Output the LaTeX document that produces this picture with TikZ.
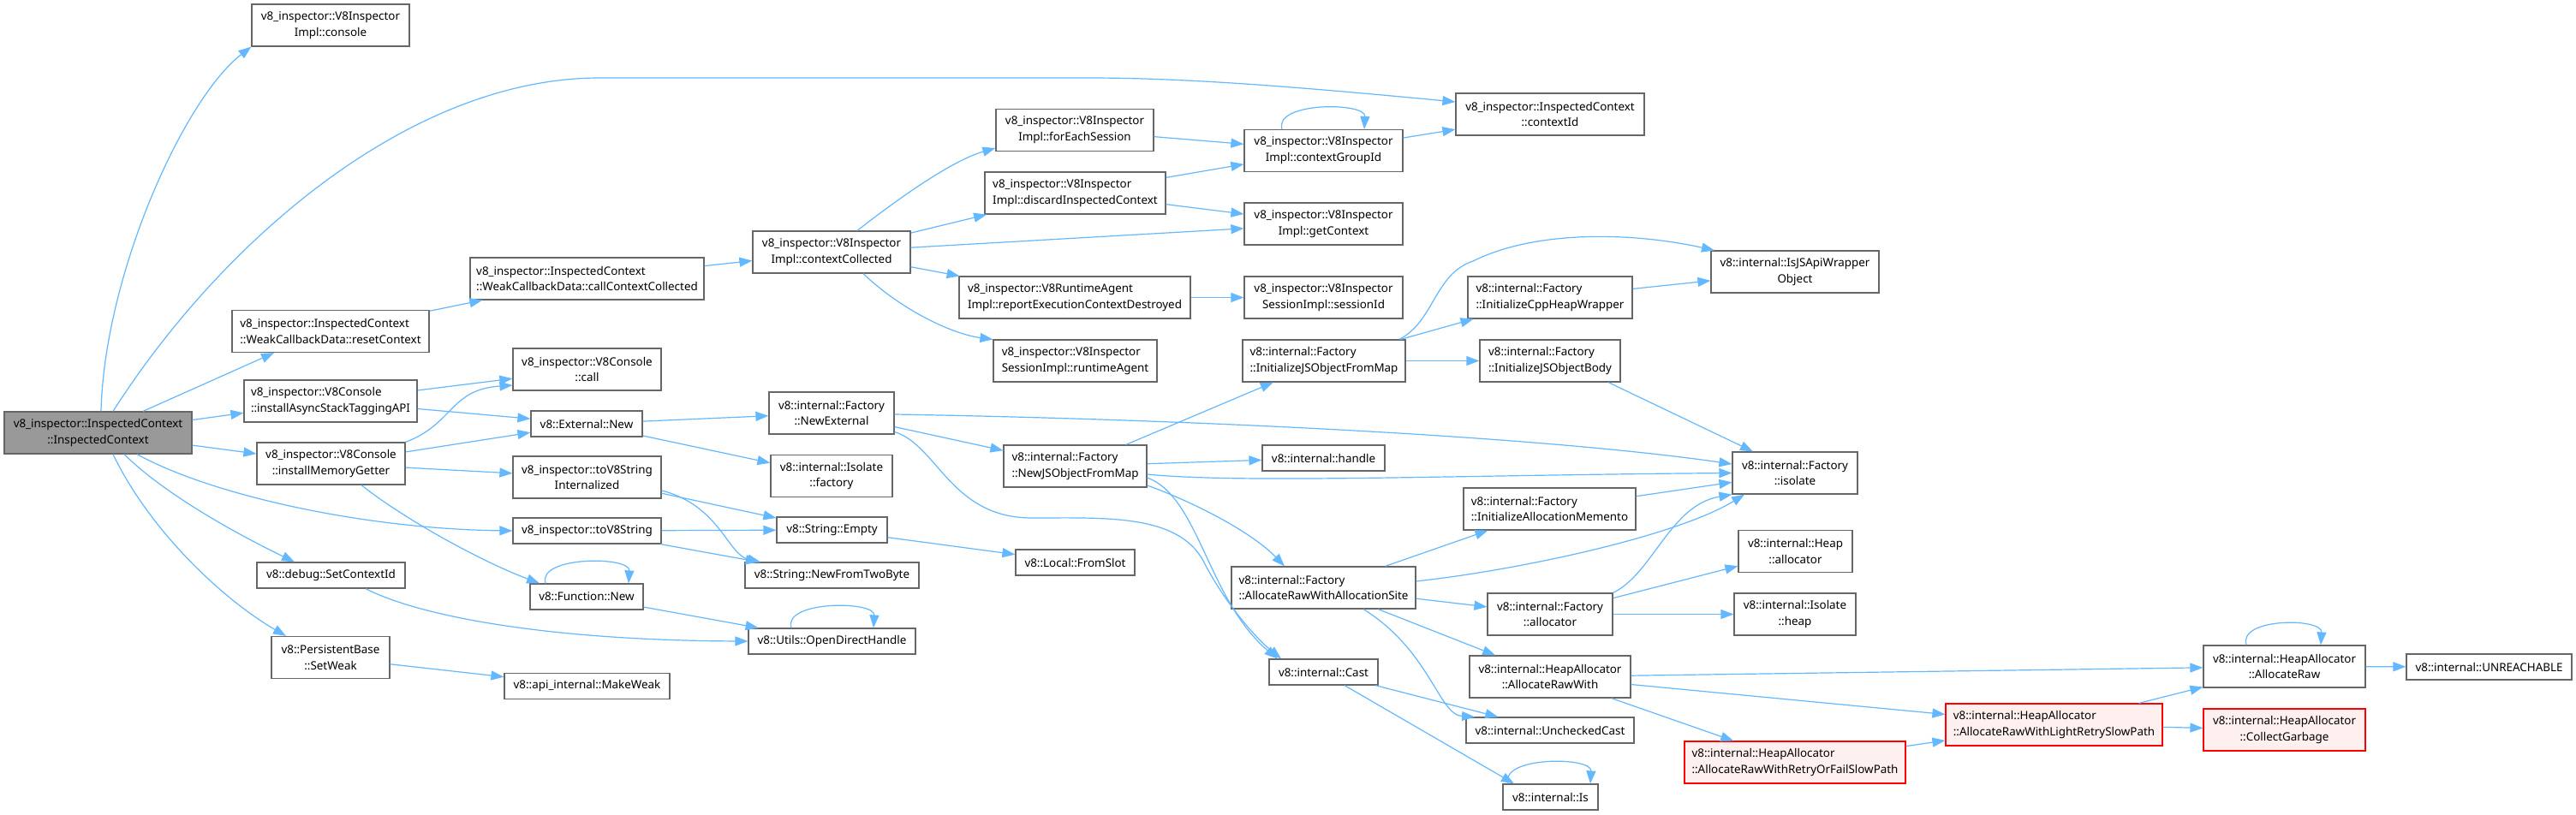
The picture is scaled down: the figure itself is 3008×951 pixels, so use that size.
\documentclass[tikz,border=0pt]{standalone}
\usepackage{fontspec}
\setmainfont{Noto Sans}
\usetikzlibrary{arrows.meta}
\definecolor{edgeblue}{HTML}{63B8FF}
\definecolor{boxgray}{HTML}{666666}
\definecolor{maingray}{HTML}{999999}
\definecolor{redfill}{HTML}{FFF0F0}
\begin{document}
\begin{tikzpicture}[x=1pt, y=-1pt,
  box/.style={draw=boxgray, line width=1.2pt, fill=white, inner xsep=3pt, inner ysep=0pt,
    font=\fontsize{13.4pt}{18.7pt}\selectfont, text=black},
  ha/.style={minimum height=30pt},
  hb/.style={minimum height=49pt},
  lft/.style={align=left},
  ctr/.style={align=center},
  mainbox/.style={box, fill=maingray},
  redbox/.style={box, draw=red, fill=redfill},
  conn/.style={draw=edgeblue, line width=1.2pt, -{Triangle[length=15pt,width=11pt]}},
  selfloop/.style={conn}
]
\fill[white] (0,0) rectangle (3008,951);
\useasboundingbox (0,0) rectangle (3008,951);

% column 0/1
\node[mainbox,hb,ctr,minimum width=219pt] (ic) at (114.5,505.5) {v8\_inspector::InspectedContext\\::InspectedContext};
\node[box,hb,ctr,minimum width=184pt] (console) at (386,29.5) {v8\_inspector::V8Inspector\\Impl::console};
\node[box,hb,lft,minimum width=230pt] (resetctx) at (386,387) {v8\_inspector::InspectedContext\\::WeakCallbackData::resetContext};
\node[box,hb,lft,minimum width=202pt] (async) at (386,468.5) {v8\_inspector::V8Console\\::installAsyncStackTaggingAPI};
\node[box,hb,ctr,minimum width=173pt] (memget) at (386.5,541.5) {v8\_inspector::V8Console\\::installMemoryGetter};
\node[box,ha,minimum width=173pt] (setctx) at (386.5,672) {v8::debug::SetContextId};
\node[box,hb,ctr,minimum width=138pt] (setweak) at (386,768) {v8::PersistentBase\\::SetWeak};

% column 2
\node[box,hb,lft,minimum width=273pt] (callcc) at (685.5,325.5) {v8\_inspector::InspectedContext\\::WeakCallbackData::callContextCollected};
\node[box,hb,ctr,minimum width=173pt] (call) at (685.5,431.5) {v8\_inspector::V8Console\\::call};
\node[box,ha,minimum width=130pt] (extnew) at (685,495) {v8::External::New};
\node[box,hb,ctr,minimum width=173pt] (tostrint) at (685.5,557.5) {v8\_inspector::toV8String\\Internalized};
\node[box,ha,minimum width=173pt] (tostr) at (685.5,620) {v8\_inspector::toV8String};
\node[box,ha,minimum width=132pt] (fnnew) at (685,697) {v8::Function::New};
\node[box,ha,minimum width=193pt] (makeweak) at (685.5,801.5) {v8::api\_internal::MakeWeak};

% column 3
\node[box,hb,ctr,minimum width=184pt] (ctxcoll) at (971,294.5) {v8\_inspector::V8Inspector\\Impl::contextCollected};
\node[box,hb,ctr,minimum width=146pt] (newext) at (971,482.5) {v8::internal::Factory\\::NewExternal};
\node[box,hb,ctr,minimum width=142pt] (isofac) at (971,556) {v8::internal::Isolate\\::factory};
\node[box,ha,minimum width=129pt] (strempty) at (971.5,619) {v8::String::Empty};
\node[box,ha,minimum width=203pt] (twobyte) at (971.5,672) {v8::String::NewFromTwoByte};
\node[box,ha,minimum width=195pt] (odh) at (971.5,749) {v8::Utils::OpenDirectHandle};

% column 4
\node[box,hb,ctr,minimum width=184pt] (foreach) at (1255,152) {v8\_inspector::V8Inspector\\Impl::forEachSession};
\node[box,hb,lft,minimum width=211pt] (discard) at (1255.5,225.5) {v8\_inspector::V8Inspector\\Impl::discardInspectedContext};
\node[box,hb,lft,minimum width=270pt] (report) at (1255,347.5) {v8\_inspector::V8RuntimeAgent\\Impl::reportExecutionContextDestroyed};
\node[box,hb,lft,minimum width=191pt] (runtime) at (1255.5,421.5) {v8\_inspector::V8Inspector\\SessionImpl::runtimeAgent};
\node[box,hb,lft,minimum width=167pt] (newjs) at (1255.5,544.5) {v8::internal::Factory\\::NewJSObjectFromMap};
\node[box,ha,minimum width=139pt] (fromslot) at (1255.5,657) {v8::Local::FromSlot};

% column 5
\node[box,hb,ctr,minimum width=185pt] (groupid) at (1545.5,176) {v8\_inspector::V8Inspector\\Impl::contextGroupId};
\node[box,hb,ctr,minimum width=185pt] (getctx) at (1545.5,261.5) {v8\_inspector::V8Inspector\\Impl::getContext};
\node[box,hb,ctr,minimum width=185pt] (sessid) at (1545.5,347.5) {v8\_inspector::V8Inspector\\SessionImpl::sessionId};
\node[box,hb,lft,minimum width=190pt] (initjs) at (1546,421.5) {v8::internal::Factory\\::InitializeJSObjectFromMap};
\node[box,ha,minimum width=143pt] (handle) at (1545.5,535) {v8::internal::handle};
\node[box,hb,lft,minimum width=215pt] (arwas) at (1545.5,686.5) {v8::internal::Factory\\::AllocateRawWithAllocationSite};
\node[box,ha,minimum width=127pt] (cast) at (1545.5,785) {v8::internal::Cast};

% column 6
\node[box,hb,ctr,minimum width=220pt] (ctxid) at (1810,133.5) {v8\_inspector::InspectedContext\\::contextId};
\node[box,hb,lft,minimum width=192pt] (cppheap) at (1810,347.5) {v8::internal::Factory\\::InitializeCppHeapWrapper};
\node[box,hb,lft,minimum width=164pt] (jsbody) at (1810,421.5) {v8::internal::Factory\\::InitializeJSObjectBody};
\node[box,hb,lft,minimum width=201pt] (memento) at (1809.5,594.5) {v8::internal::Factory\\::InitializeAllocationMemento};
\node[box,hb,ctr,minimum width=146pt] (facalloc) at (1810,717.5) {v8::internal::Factory\\::allocator};
\node[box,hb,ctr,minimum width=188pt] (arwith) at (1810,790.5) {v8::internal::HeapAllocator\\::AllocateRawWith};
\node[box,ha,minimum width=196pt] (unchecked) at (1810,853) {v8::internal::UncheckedCast};
\node[box,ha,minimum width=111pt] (isn) at (1810.5,931) {v8::internal::Is};

% column 7
\node[box,hb,ctr,minimum width=196pt] (apiwrap) at (2096,317.5) {v8::internal::IsJSApiWrapper\\Object};
\node[box,hb,ctr,minimum width=146pt] (facisolate) at (2096,552.5) {v8::internal::Factory\\::isolate};
\node[box,hb,ctr,minimum width=133pt] (heapalloc) at (2096.5,644) {v8::internal::Heap\\::allocator};
\node[box,hb,ctr,minimum width=142pt] (isoheap) at (2096,717.5) {v8::internal::Isolate\\::heap};
\node[redbox,hb,lft,minimum width=258pt] (retryfail) at (2096,890.5) {v8::internal::HeapAllocator\\::AllocateRawWithRetryOrFailSlowPath};

% columns 8-10
\node[redbox,hb,lft,minimum width=253pt] (light) at (2398.5,846.5) {v8::internal::HeapAllocator\\::AllocateRawWithLightRetrySlowPath};
\node[box,hb,ctr,minimum width=189pt] (araw) at (2667.5,778.5) {v8::internal::HeapAllocator\\::AllocateRaw};
\node[redbox,hb,ctr,minimum width=189pt] (collect) at (2667.5,852.5) {v8::internal::HeapAllocator\\::CollectGarbage};
\node[box,ha,minimum width=193pt] (unreach) at (2906.5,779) {v8::internal::UNREACHABLE};

% ---------- connectors ----------
% from main node
\draw[conn] ([xshift=3.5pt]ic.north) .. controls (122,320) and (215,115) .. (console.south west);
\draw[conn] ([xshift=17.5pt]ic.north) .. controls (260,280) and (480,91) .. (700,91) -- (1270,91) .. controls (1380,91) and (1500,100) .. ([yshift=14.5pt]ctxid.west);
\draw[conn] ([xshift=52.5pt]ic.north) -- ([xshift=-66pt]resetctx.south);
\draw[conn] (ic) -- (async);
\draw[conn] (ic) -- (memget);
\draw[conn] ([xshift=45.5pt]ic.south) .. controls (250,580) and (430,618) .. (tostr.west);
\draw[conn] ([xshift=30.5pt]ic.south) .. controls (195,580) and (285,628) .. ([xshift=-42.5pt]setctx.north);
\draw[conn] ([xshift=17.5pt]ic.south) .. controls (175,620) and (260,700) .. ([xshift=-52pt]setweak.north);

% inspector branch
\draw[conn] (resetctx) -- (callcc);
\draw[conn] (callcc) -- (ctxcoll);
\draw[conn] ([xshift=30pt]ctxcoll.north) .. controls (1045,235) and (1110,188) .. ([yshift=-21pt]foreach.west);
\draw[conn] (ctxcoll) -- (discard);
\draw[conn] (ctxcoll) -- (getctx);
\draw[conn] (ctxcoll) -- (report);
\draw[conn] ([xshift=37pt]ctxcoll.south) .. controls (1050,360) and (1110,390) .. (runtime.north west);
\draw[conn] (foreach) -- (groupid);
\draw[conn] (discard) -- (groupid);
\draw[conn] (discard) -- (getctx);
\draw[selfloop] ([xshift=-48.5pt]groupid.north) .. controls +(-10,-32) and +(2,-32) .. ([xshift=47.5pt]groupid.north);
\draw[conn] (groupid) -- (ctxid);
\draw[conn] (report) -- (sessid);

% console branch
\draw[conn] (async) -- (call);
\draw[conn] (async) -- (extnew);
\draw[conn] (memget.north east) .. controls (530,495) and (525,455) .. ([yshift=-18.5pt]call.west);
\draw[conn] (memget) -- (extnew);
\draw[conn] (memget) -- (tostrint);
\draw[conn] ([xshift=35.5pt]memget.south) .. controls (470,605) and (560,655) .. ([xshift=-55pt]fnnew.north);
\draw[selfloop] ([xshift=-48pt]fnnew.north) .. controls +(-10,-32) and +(2,-32) .. ([xshift=49pt]fnnew.north);
\draw[conn] (tostrint) -- (strempty);
\draw[conn] ([yshift=-15.5pt]tostrint.east) .. controls (840,590) and (850,648) .. ([xshift=-83.5pt]twobyte.north);
\draw[conn] (tostr) -- (strempty);
\draw[conn] (tostr) -- (twobyte);
\draw[conn] (strempty) -- (fromslot);
\draw[conn] (extnew) -- (newext);
\draw[conn] (extnew) -- (isofac);
\draw[conn] (fnnew) -- (odh);
\draw[conn] ([xshift=40.5pt]setctx.south) .. controls (490,720) and (640,748) .. (odh.west);
\draw[selfloop] ([xshift=-47.5pt]odh.north) .. controls +(-10,-32) and +(2,-32) .. ([xshift=48.5pt]odh.north);
\draw[conn] (setweak) -- (makeweak);

% factory branch
\draw[conn] ([yshift=-1.5pt]newext.east) .. controls (1400,490) and (1800,510) .. ([yshift=10.5pt]facisolate.west);
\draw[conn] (newext) -- (newjs);
\draw[conn] ([yshift=-22pt]newext.east) .. controls (1095,520) and (1110,605) .. (1205,605) .. controls (1290,605) and (1375,600) .. (1405,655) .. controls (1425,695) and (1460,740) .. ([xshift=-49.5pt]cast.north);
\draw[conn] (newjs) -- (initjs);
\draw[conn] (newjs) -- (handle);
\draw[conn] ([yshift=-9.5pt]newjs.east) .. controls (1450,565) and (1700,555) .. (facisolate.west);
\draw[conn] ([yshift=-22.5pt]newjs.east) .. controls (1390,585) and (1460,620) .. ([xshift=-45.5pt]arwas.north);
\draw[conn] ([yshift=-13.5pt]newjs.east) .. controls (1400,580) and (1410,700) .. ([xshift=-54pt]cast.north);
\draw[conn] ([xshift=88pt]initjs.north) .. controls (1675,375) and (1675,320) .. (1720,305) .. controls (1790,270) and (1900,270) .. ([xshift=-94pt]apiwrap.north);
\draw[conn] (initjs) -- (cppheap);
\draw[conn] (initjs) -- (jsbody);
\draw[conn] (cppheap) -- (apiwrap);
\draw[conn] ([xshift=68pt]jsbody.south) -- ([xshift=-49pt]facisolate.north);
\draw[conn] (arwas) -- (memento);
\draw[conn] ([yshift=7.5pt]arwas.east) .. controls (1780,665) and (1960,625) .. ([xshift=-59pt]facisolate.south);
\draw[conn] (arwas) -- (facalloc);
\draw[conn] (arwas) -- (arwith);
\draw[conn] ([xshift=46.5pt]arwas.south) .. controls (1670,760) and (1680,835) .. ([xshift=-88pt]unchecked.north);
\draw[conn] (cast) -- (unchecked);
\draw[conn] ([xshift=24.5pt]cast.south) -- ([xshift=-42.5pt]isn.north);
\draw[selfloop] ([xshift=-49.5pt]isn.north) .. controls +(-10,-32) and +(2,-32) .. ([xshift=46.5pt]isn.north);
\draw[conn] (facalloc.north east) .. controls (1930,670) and (1950,590) .. (facisolate.south west);
\draw[conn] (facalloc) -- (heapalloc);
\draw[conn] (facalloc) -- (isoheap);
\draw[conn] (memento) -- (facisolate);

% heap allocator branch
\draw[conn] (arwith) -- (araw);
\draw[conn] (arwith) -- (light);
\draw[conn] (arwith) -- (retryfail);
\draw[conn] (retryfail) -- (light);
\draw[conn] (light) -- (araw);
\draw[conn] (light) -- (collect);
\draw[selfloop] ([xshift=-44.5pt]araw.north) .. controls +(-10,-32) and +(2,-32) .. ([xshift=42.5pt]araw.north);
\draw[conn] (araw) -- (unreach);
\end{tikzpicture}
\end{document}
